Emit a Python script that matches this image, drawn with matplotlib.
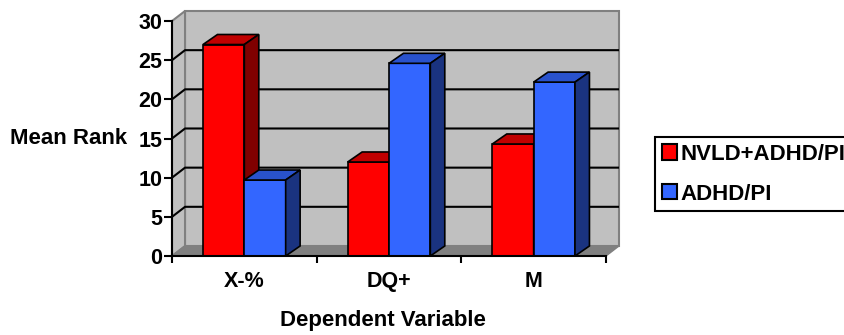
import matplotlib.pyplot as plt
from matplotlib.patches import Polygon, Patch

categories = ['X-%', 'DQ+', 'M']
series_names = ['NVLD+ADHD/PI', 'ADHD/PI']
nvld_adhd = [27.0, 12.0, 14.3]
adhd = [9.7, 24.6, 22.2]
y_ticks = [0, 5, 10, 15, 20, 25, 30]

front_colors = ['#FF0000', '#3366FF']
top_colors = ['#C00000', '#2952CC']
side_colors = ['#800000', '#1A3380']

plt.rcParams['font.family'] = ['Liberation Sans', 'DejaVu Sans']
plt.rcParams['font.weight'] = 'bold'
fs = 15.5

fig = plt.figure(figsize=(8.45, 3.35), dpi=100)
ax = fig.add_axes([172 / 845, 79 / 335, 447 / 845, 245 / 335])

# depth offsets (data units)
wx, wy = 0.09, 1.28      # walls
bx, by = 0.10, 1.28      # bars
x0, x1 = -0.5, len(categories) - 0.5
ymax = y_ticks[-1]

ax.set_xlim(x0, x1 + wx)
ax.set_ylim(0, ymax + wy)

# walls and floor
wall = '#C0C0C0'
edge = '#808080'
ax.add_patch(Polygon([(x0 + wx, wy), (x1 + wx, wy), (x1 + wx, ymax + wy), (x0 + wx, ymax + wy)],
                     closed=True, fc=wall, ec=edge, lw=1.5, zorder=1, clip_on=False))
ax.add_patch(Polygon([(x0, 0), (x0 + wx, wy), (x0 + wx, ymax + wy), (x0, ymax)],
                     closed=True, fc=wall, ec=edge, lw=1.5, zorder=1, clip_on=False))
ax.add_patch(Polygon([(x0, 0), (x1, 0), (x1 + wx, wy), (x0 + wx, wy)],
                     closed=True, fc=edge, ec=edge, lw=1, zorder=1, clip_on=False))

# gridlines on side and back wall
for v in y_ticks[1:-1]:
    ax.plot([x0, x0 + wx, x1 + wx], [v, v + wy, v + wy], color='black', lw=1.5, zorder=2)

# bars
n = len(series_names)
w = 1 / (n + 1.5)
for i, vals in enumerate([nvld_adhd, adhd]):
    xs = [c - w * n / 2 + w * i + w / 2 for c in range(len(categories))]
    ax.bar(xs, vals, width=w, color=front_colors[i], edgecolor='black', lw=1.2,
           zorder=3 + i, label=series_names[i])
    for x, v in zip(xs, vals):
        l, r = x - w / 2, x + w / 2
        ax.add_patch(Polygon([(l, v), (r, v), (r + bx, v + by), (l + bx, v + by)], closed=True,
                             fc=top_colors[i], ec='black', lw=1.2, zorder=3 + i))
        ax.add_patch(Polygon([(r, 0), (r + bx, by), (r + bx, v + by), (r, v)], closed=True,
                             fc=side_colors[i], ec='black', lw=1.2, zorder=3 + i))

# axes
for s in ['top', 'right']:
    ax.spines[s].set_visible(False)
ax.spines['left'].set_bounds(0, ymax)
ax.spines['bottom'].set_bounds(x0, x1)
for s in ['left', 'bottom']:
    ax.spines[s].set_linewidth(1.5)
    ax.spines[s].set_zorder(6)
ax.set_yticks(y_ticks)
ax.set_yticklabels([str(t) for t in y_ticks], fontsize=fs, fontweight='bold')
ax.set_xticks([x0 + k for k in range(len(categories) + 1)])
ax.set_xticklabels([])
ax.set_xticks(range(len(categories)), minor=True)
ax.set_xticklabels(categories, minor=True, fontsize=fs, fontweight='bold')
ax.tick_params(axis='y', length=6, width=1.5, pad=1)
ax.tick_params(axis='x', which='major', length=5, width=1.5)
ax.tick_params(axis='x', which='minor', length=0, pad=11)

ax.set_ylabel('Mean Rank', rotation=0, ha='right', va='center', fontsize=16, fontweight='bold')
ax.yaxis.set_label_coords(-0.10, 0.48)
ax.set_xlabel('Dependent Variable', fontsize=16, fontweight='bold')
ax.xaxis.set_label_coords(0.472, -0.22)

handles = [Patch(fc=front_colors[i], ec='black', lw=1.5) for i in range(n)]
leg = fig.legend(handles, series_names, loc='upper left', bbox_to_anchor=(655 / 845, 1 - 137 / 335),
                 borderaxespad=0, fancybox=False, edgecolor='black', framealpha=1,
                 prop={'size': 16, 'weight': 'bold'}, handlelength=0.68, handleheight=0.68,
                 handletextpad=0.15, borderpad=0.3, labelspacing=0.85)
leg.get_frame().set_linewidth(1.5)

fig.savefig('out.png', dpi=100)
